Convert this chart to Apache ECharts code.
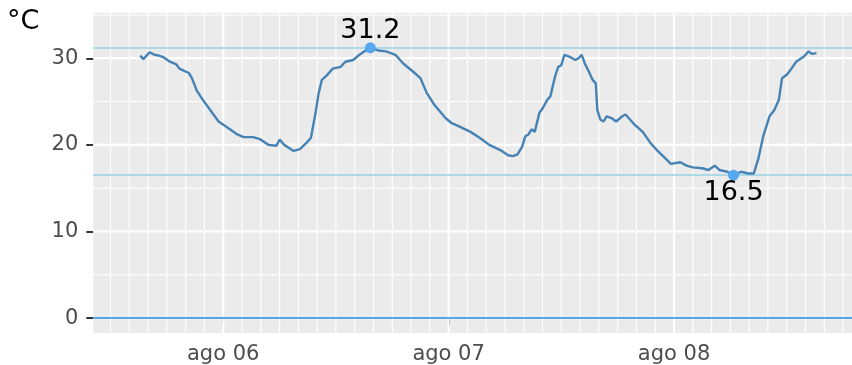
<!DOCTYPE html>
<html>
<head>
<meta charset="utf-8">
<script src="https://cdn.jsdelivr.net/npm/echarts@6.0.0/dist/echarts.min.js"></script>
<style>
  html, body { margin: 0; padding: 0; background: #ffffff; }
  #chart { width: 852px; height: 365px; }
</style>
</head>
<body>
<div id="chart"></div>
<script>
  // lecturas de temperatura (hora, °C)
  const times = [
    '2020-08-05 15:10', '2020-08-05 15:30', '2020-08-05 16:10', '2020-08-05 16:40', '2020-08-05 17:10',
    '2020-08-05 17:40', '2020-08-05 18:20', '2020-08-05 19:00', '2020-08-05 19:20', '2020-08-05 20:20',
    '2020-08-05 20:40', '2020-08-05 21:10', '2020-08-05 21:50', '2020-08-05 22:30', '2020-08-05 23:30',
    '2020-08-06 00:20', '2020-08-06 01:30', '2020-08-06 02:10', '2020-08-06 03:10', '2020-08-06 03:50',
    '2020-08-06 04:50', '2020-08-06 05:40', '2020-08-06 06:00', '2020-08-06 06:30', '2020-08-06 07:30',
    '2020-08-06 08:10', '2020-08-06 08:50', '2020-08-06 09:20', '2020-08-06 09:50', '2020-08-06 10:10',
    '2020-08-06 10:30', '2020-08-06 11:00', '2020-08-06 11:40', '2020-08-06 12:30', '2020-08-06 13:00',
    '2020-08-06 13:50', '2020-08-06 14:30', '2020-08-06 15:10', '2020-08-06 15:40', '2020-08-06 16:30',
    '2020-08-06 17:20', '2020-08-06 18:20', '2020-08-06 19:10', '2020-08-06 20:10', '2020-08-06 21:00',
    '2020-08-06 21:40', '2020-08-06 22:30', '2020-08-06 23:40',
    '2020-08-07 00:20', '2020-08-07 01:10', '2020-08-07 02:20', '2020-08-07 03:20', '2020-08-07 04:20',
    '2020-08-07 05:30', '2020-08-07 06:20', '2020-08-07 06:50', '2020-08-07 07:20', '2020-08-07 07:50',
    '2020-08-07 08:10', '2020-08-07 08:30', '2020-08-07 08:50', '2020-08-07 09:10', '2020-08-07 09:40',
    '2020-08-07 10:00', '2020-08-07 10:30', '2020-08-07 10:50', '2020-08-07 11:20', '2020-08-07 11:40',
    '2020-08-07 12:00', '2020-08-07 12:20', '2020-08-07 12:50', '2020-08-07 13:30', '2020-08-07 13:50',
    '2020-08-07 14:10', '2020-08-07 14:30', '2020-08-07 15:00', '2020-08-07 15:20', '2020-08-07 15:40',
    '2020-08-07 15:50', '2020-08-07 16:10', '2020-08-07 16:30', '2020-08-07 16:50', '2020-08-07 17:20',
    '2020-08-07 17:50', '2020-08-07 18:30', '2020-08-07 18:50', '2020-08-07 19:10', '2020-08-07 19:50',
    '2020-08-07 20:40', '2020-08-07 21:30', '2020-08-07 22:10', '2020-08-07 22:50', '2020-08-07 23:40',
    '2020-08-08 00:40', '2020-08-08 01:20', '2020-08-08 02:00', '2020-08-08 03:00', '2020-08-08 03:40',
    '2020-08-08 04:20', '2020-08-08 04:50', '2020-08-08 05:40', '2020-08-08 06:20', '2020-08-08 07:10',
    '2020-08-08 07:50', '2020-08-08 08:30', '2020-08-08 09:00', '2020-08-08 09:30', '2020-08-08 10:10',
    '2020-08-08 10:40', '2020-08-08 11:10', '2020-08-08 11:30', '2020-08-08 12:00', '2020-08-08 12:30',
    '2020-08-08 13:00', '2020-08-08 13:50', '2020-08-08 14:20', '2020-08-08 14:40', '2020-08-08 15:10'
  ];
  const temps = [
    30.3, 29.9, 30.7, 30.4, 30.3,
    30.1, 29.6, 29.3, 28.8, 28.3,
    27.7, 26.3, 25.2, 24.2, 22.7,
    22.1, 21.2, 20.9, 20.9, 20.7,
    20.0, 19.9, 20.6, 20.0, 19.3,
    19.5, 20.2, 20.8, 23.7, 26.0,
    27.5, 28.0, 28.8, 29.0, 29.6,
    29.8, 30.4, 30.9, 31.2, 30.9,
    30.8, 30.4, 29.4, 28.5, 27.7,
    26.0, 24.6, 23.1,
    22.5, 22.1, 21.5, 20.8, 20.0,
    19.4, 18.8, 18.7, 18.9, 19.8,
    21.0, 21.2, 21.8, 21.5, 23.7,
    24.2, 25.2, 25.6, 27.9, 29.0,
    29.2, 30.4, 30.2, 29.8, 30.0,
    30.4, 29.4, 28.3, 27.5, 27.1,
    24.0, 22.9, 22.7, 23.3, 23.1,
    22.7, 23.3, 23.5, 23.1, 22.3,
    21.5, 20.2, 19.4, 18.7, 17.8,
    18.0, 17.6, 17.4, 17.3, 17.1,
    17.6, 17.1, 16.9, 16.5, 16.9,
    16.7, 16.7, 18.5, 21.0, 23.3,
    24.0, 25.2, 27.7, 28.1, 28.8,
    29.6, 30.2, 30.8, 30.5, 30.6
  ];

  // ejes
  const dayBreaks = ['2020-08-06 00:00', '2020-08-07 00:00', '2020-08-08 00:00'];
  const minorStart = '2020-08-05 12:00';
  const minorEnd = '2020-08-08 18:00';
  const yBreaks = [0, 10, 20, 30];
  const yMinorBreaks = [5, 15, 25, 35];
  const xLimits = ['2020-08-05 10:10', '2020-08-08 18:57'];
  const yLimits = [-1.72, 35.26];
  const zeroLine = 0;
  const meses = ['ene', 'feb', 'mar', 'abr', 'may', 'jun', 'jul', 'ago', 'sep', 'oct', 'nov', 'dic'];

  function toMs(s) {
    const [d, h] = s.split(' ');
    const [Y, M, D] = d.split('-').map(Number);
    const [hh, mm] = h.split(':').map(Number);
    return Date.UTC(Y, M - 1, D, hh, mm);
  }

  const font = 'DejaVu Sans';
  const seriesData = times.map((t, i) => [toMs(t), temps[i]]);
  const dayMs = dayBreaks.map(toMs);

  // rejilla: menores cada 2 horas, mayores cada día
  const vLines = [];
  for (let t = toMs(minorStart); t <= toMs(minorEnd); t += 2 * 3600 * 1000) {
    vLines.push([t, dayMs.indexOf(t) >= 0 ? 1 : 0]);
  }
  const hLines = yBreaks.map(v => [toMs(xLimits[0]), v, 1])
    .concat(yMinorBreaks.map(v => [toMs(xLimits[0]), v, 0]));

  let myChart = echarts.init(document.getElementById('chart'));

  let option = {
    animation: false,
    title: {
      text: '°C',
      left: 7,
      top: 8,
      padding: 0,
      textStyle: { fontFamily: font, fontSize: 27, fontWeight: 'normal', color: '#000000' }
    },
    grid: {
      left: 93.3,
      right: 0,
      top: 12.7,
      bottom: 31.7,
      show: true,
      backgroundColor: '#EBEBEB',
      borderWidth: 0
    },
    xAxis: {
      type: 'value',
      min: toMs(xLimits[0]),
      max: toMs(xLimits[1]),
      axisLine: { show: false },
      splitLine: { show: false },
      axisTick: {
        show: true,
        customValues: dayMs,
        length: 7,
        lineStyle: { color: '#333333', width: 2 }
      },
      axisLabel: {
        customValues: dayMs,
        margin: 11,
        fontFamily: font,
        fontSize: 21,
        color: '#4D4D4D',
        formatter: function (v) {
          const d = new Date(v);
          return meses[d.getUTCMonth()] + ' ' + String(d.getUTCDate()).padStart(2, '0');
        }
      }
    },
    yAxis: {
      type: 'value',
      min: yLimits[0],
      max: yLimits[1],
      axisLine: { show: false },
      splitLine: { show: false },
      axisTick: {
        show: true,
        customValues: yBreaks,
        length: 7,
        lineStyle: { color: '#333333', width: 2 }
      },
      axisLabel: {
        customValues: yBreaks,
        margin: 15,
        fontFamily: font,
        fontSize: 21,
        color: '#4D4D4D'
      }
    },
    series: [
      {
        /*rejilla vertical*/
        type: 'custom',
        silent: true,
        z: 1,
        clip: true,
        data: vLines,
        renderItem: function (params, api) {
          const x = api.coord([api.value(0), 0])[0];
          const cs = params.coordSys;
          return {
            type: 'line',
            shape: { x1: x, y1: cs.y, x2: x, y2: cs.y + cs.height },
            style: { stroke: '#ffffff', lineWidth: api.value(1) ? 2.2 : 1.1 }
          };
        }
      },
      {
        /*rejilla horizontal*/
        type: 'custom',
        silent: true,
        z: 1,
        clip: true,
        data: hLines,
        renderItem: function (params, api) {
          const y = api.coord([api.value(0), api.value(1)])[1];
          const cs = params.coordSys;
          return {
            type: 'line',
            shape: { x1: cs.x, y1: y, x2: cs.x + cs.width, y2: y },
            style: { stroke: '#ffffff', lineWidth: api.value(2) ? 2.2 : 1.1 }
          };
        }
      },
      {
        /*temperatura*/
        name: 'temperatura',
        type: 'line',
        z: 4,
        data: seriesData,
        showSymbol: false,
        lineStyle: { color: '#4682B4', width: 2.4 },
        markLine: {
          silent: true,
          z: 3,
          symbol: 'none',
          label: { show: false },
          data: [
            { type: 'max', lineStyle: { color: '#ADD8E6', width: 2.2, type: 'solid' } },
            { type: 'min', lineStyle: { color: '#ADD8E6', width: 2.2, type: 'solid' } },
            { yAxis: zeroLine, lineStyle: { color: '#56A6EA', width: 2.2, type: 'solid' } }
          ]
        },
        markPoint: {
          silent: true,
          z: 5,
          symbol: 'circle',
          symbolSize: 11,
          itemStyle: { color: '#56A8F0' },
          label: {
            show: true,
            fontFamily: font,
            fontSize: 27,
            color: '#000000',
            formatter: function (p) { return Number(p.value).toFixed(1); }
          },
          data: [
            { type: 'max', label: { position: 'top', distance: -2 } },
            { type: 'min', label: { position: 'bottom', distance: -1 } }
          ]
        }
      }
    ]
  };

  myChart.setOption(option);
  window.addEventListener('resize', function () { myChart.resize(); });
</script>
</body>
</html>
